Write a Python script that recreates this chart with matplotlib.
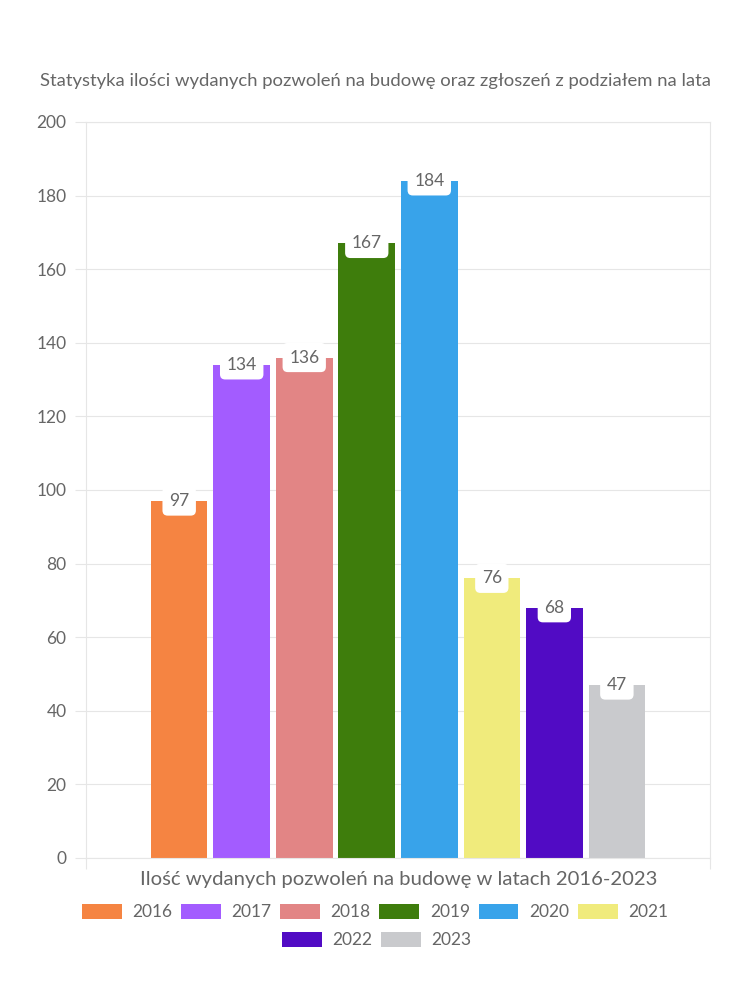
import matplotlib.pyplot as plt
from matplotlib.patches import Patch

plt.rcParams['font.family'] = ['Lato', 'DejaVu Sans']

years = ['2016', '2017', '2018', '2019', '2020', '2021', '2022', '2023']
permits = [97, 134, 136, 167, 184, 76, 68, 47]
colors = ['#f58442', '#a35cff', '#e28585', '#3e7d0c', '#38a3ea', '#f0eb7c', '#510bc4', '#c9cacd']

title = 'Statystyka ilości wydanych pozwoleń na budowę oraz zgłoszeń z podziałem na lata'
xlabel = 'Ilość wydanych pozwoleń na budowę w latach 2016-2023'

text_col = '#666666'
grid_col = '#e6e6e6'

fig = plt.figure(figsize=(7.5, 10), dpi=100)
ax = fig.add_axes([0.1147, 0.142, 0.832, 0.736])

x = list(range(len(years)))
ax.bar(x, permits, width=0.905, color=colors, zorder=2)

ax.set_xlim(3.5 - 4.99, 3.5 + 4.99)
ax.set_ylim(0, 200)
ax.set_yticks(range(0, 201, 20))
ax.set_xticks([3.5 - 4.99, 3.5 + 4.99])
ax.set_xticklabels(['', ''])
ax.grid(axis='y', color=grid_col, linewidth=0.8, zorder=0)
for s in ax.spines.values():
    s.set_color(grid_col)
    s.set_linewidth(0.8)
ax.tick_params(axis='y', colors=grid_col, labelcolor=text_col, labelsize=12.5, length=8, width=0.8, pad=6)
ax.tick_params(axis='x', colors=grid_col, length=8, width=0.8)

# value labels in white rounded boxes at bar tops
for xi, v in zip(x, permits):
    ax.text(xi, v, str(v), ha='center', va='center', fontsize=12.5, color=text_col, zorder=4,
            bbox=dict(boxstyle='round,pad=0.38,rounding_size=0.3', fc='white', ec='none'))

fig.text(0.5, 0.919, title, ha='center', va='center', fontsize=13.3, color=text_col)
fig.text(0.532, 0.120, xlabel, ha='center', va='center', fontsize=14.6, color=text_col)

handles = [Patch(facecolor=c, edgecolor='none') for c in colors]
leg_kw = dict(frameon=False, handlelength=2.3, handleheight=1.0, handletextpad=0.6,
              columnspacing=0.5, fontsize=12.5, labelcolor=text_col, loc='center')
fig.legend(handles[:6], years[:6], ncol=6, bbox_to_anchor=(0.5, 0.088), **leg_kw)
fig.legend(handles[6:], years[6:], ncol=2, bbox_to_anchor=(0.502, 0.060), **leg_kw)

fig.savefig('out.png', dpi=100)
